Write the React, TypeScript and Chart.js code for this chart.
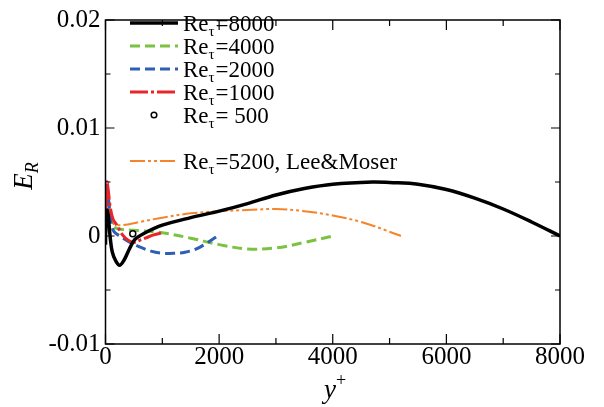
import React, { useEffect, useRef } from 'react';
import { Chart, registerables } from 'chart.js';
Chart.register(...registerables);

const SERIF = '"Liberation Serif", "Times New Roman", serif';

// Re_tau = 8000
const x8000 = [0, 5, 15, 30, 50, 80, 120, 180, 250, 330, 420, 520, 700, 1000, 1500, 2000, 2500, 3000, 3500, 4000, 4700, 5000, 5500, 6000, 6500, 7000, 7500, 8000];
const e8000 = [-0.0008, 0.001, 0.002, 0.0024, 0.0018, 0.0, -0.0015, -0.0023, -0.0027, -0.0022, -0.0012, -0.0003, 0.0003, 0.001, 0.0017, 0.0023, 0.003, 0.0038, 0.0044, 0.0048, 0.005, 0.00495, 0.0048, 0.0043, 0.0035, 0.0025, 0.0013, 0.0];
// Re_tau = 4000
const x4000 = [0, 10, 30, 60, 100, 150, 300, 600, 1000, 1500, 2000, 2500, 3000, 3500, 4000];
const e4000 = [0, 0.003, 0.0045, 0.003, 0.0012, 0.0008, 0.0006, 0.0005, 0.0003, -0.0002, -0.0008, -0.0012, -0.0011, -0.0006, 0];
// Re_tau = 2000
const x2000 = [0, 10, 30, 60, 100, 150, 250, 400, 600, 800, 1000, 1200, 1400, 1600, 1800, 2000];
const e2000 = [0, 0.003, 0.0045, 0.003, 0.0012, 0.0004, 0.0, -0.0005, -0.001, -0.0014, -0.0016, -0.0016, -0.0015, -0.0012, -0.0006, 0.0001];
// Re_tau = 1000
const x1000 = [0, 10, 25, 50, 80, 130, 200, 300, 400, 500, 600, 700, 850, 1000];
const e1000 = [0, 0.0035, 0.005, 0.0042, 0.0028, 0.0016, 0.001, 0.0001, -0.0004, -0.0006, -0.0004, -0.0002, 0.0001, 0.0003];
// Re_tau = 500 (markers)
const x500 = [480];
const e500 = [0.0002];
// Re_tau = 5200, Lee & Moser
const x5200 = [0, 10, 25, 50, 90, 150, 300, 600, 1000, 1500, 2000, 2500, 3000, 3500, 4000, 4500, 5000, 5200];
const e5200 = [0, 0.0035, 0.0042, 0.003, 0.0015, 0.0011, 0.001, 0.0013, 0.0017, 0.0021, 0.0023, 0.0024, 0.0025, 0.0023, 0.0019, 0.0013, 0.0004, 0];

const xTicks = [0, 1000, 2000, 3000, 4000, 5000, 6000, 7000, 8000];
const yTicks = [-0.01, -0.005, 0, 0.005, 0.01, 0.015, 0.02];

const BLACK = '#000000';
const GREEN = '#7cc242';
const BLUE = '#2f5fb5';
const RED = '#e8262a';
const ORANGE = '#f5842a';

const pts = (xs: number[], ys: number[]) => xs.map((x, i) => ({ x, y: ys[i] }));

type LegendItem = { color: string; dash: number[]; width: number; label: string; marker?: boolean };
const legendItems: LegendItem[] = [
  { color: BLACK, dash: [], width: 3.5, label: '=8000' },
  { color: GREEN, dash: [10, 5], width: 3, label: '=4000' },
  { color: BLUE, dash: [10, 5], width: 3, label: '=2000' },
  { color: RED, dash: [18, 3, 3, 3], width: 3, label: '=1000' },
  { color: BLACK, dash: [], width: 1.5, label: '= 500', marker: true },
  { color: ORANGE, dash: [15, 3, 3, 3, 3, 3], width: 2, label: '=5200, Lee&Moser' },
];
const legendRows = [23, 46, 69, 92, 115, 161];

const framePlugin = {
  id: 'frameTicksLegend',
  afterDraw(chart: any) {
    const { ctx, chartArea } = chart;
    const xs = chart.scales.x;
    const ys = chart.scales.y;
    const { left, right, top, bottom } = chartArea;
    ctx.save();
    ctx.strokeStyle = '#000';
    ctx.lineWidth = 1.5;
    ctx.setLineDash([]);
    ctx.strokeRect(left, top, right - left, bottom - top);
    ctx.lineWidth = 1.2;
    xTicks.forEach((v) => {
      const px = xs.getPixelForValue(v);
      const len = v % 2000 === 0 ? 10 : 6;
      ctx.beginPath();
      ctx.moveTo(px, bottom);
      ctx.lineTo(px, bottom - len);
      ctx.moveTo(px, top);
      ctx.lineTo(px, top + len);
      ctx.stroke();
    });
    yTicks.forEach((v) => {
      const py = ys.getPixelForValue(v);
      const major = Math.abs(Math.round(v * 100) - v * 100) < 1e-6;
      const len = major ? 9 : 5;
      ctx.beginPath();
      ctx.moveTo(left, py);
      ctx.lineTo(left + len, py);
      ctx.moveTo(right, py);
      ctx.lineTo(right - len, py);
      ctx.stroke();
    });

    // legend
    const lx0 = 130, lx1 = 178, tx = 183;
    legendItems.forEach((it, i) => {
      const y = legendRows[i];
      if (it.marker) {
        ctx.setLineDash([]);
        ctx.lineWidth = 1.5;
        ctx.strokeStyle = '#000';
        ctx.fillStyle = '#fff';
        ctx.beginPath();
        ctx.arc((lx0 + lx1) / 2, y, 2.8, 0, Math.PI * 2);
        ctx.fill();
        ctx.stroke();
      } else {
        ctx.setLineDash(it.dash);
        ctx.lineWidth = it.width;
        ctx.strokeStyle = it.color;
        ctx.beginPath();
        ctx.moveTo(lx0, y);
        ctx.lineTo(lx1, y);
        ctx.stroke();
      }
      ctx.setLineDash([]);
      ctx.fillStyle = '#000';
      ctx.textAlign = 'left';
      ctx.textBaseline = 'alphabetic';
      ctx.font = `23px ${SERIF}`;
      const base = y + 8;
      ctx.fillText('Re', tx, base);
      let cx = tx + ctx.measureText('Re').width;
      ctx.font = `15px ${SERIF}`;
      ctx.fillText('τ', cx, base + 5);
      cx += ctx.measureText('τ').width + 1;
      ctx.font = `23px ${SERIF}`;
      ctx.fillText(it.label, cx, base);
    });

    // y axis title E_R
    ctx.save();
    ctx.translate(32, 176);
    ctx.rotate(-Math.PI / 2);
    ctx.font = `italic 27px ${SERIF}`;
    const wE = ctx.measureText('E').width;
    ctx.font = `italic 18px ${SERIF}`;
    const wR = ctx.measureText('R').width;
    const start = -(wE + wR) / 2;
    ctx.font = `italic 27px ${SERIF}`;
    ctx.fillText('E', start, 0);
    ctx.font = `italic 18px ${SERIF}`;
    ctx.fillText('R', start + wE, 6);
    ctx.restore();

    // x axis title y+
    ctx.font = `italic 27px ${SERIF}`;
    const wy = ctx.measureText('y').width;
    ctx.fillText('y', 330 - wy / 2, 398);
    ctx.font = `18px ${SERIF}`;
    ctx.fillText('+', 330 + wy / 2 + 0, 386);
    ctx.restore();
  },
};

export default function App() {
  const ref = useRef<HTMLCanvasElement>(null);
  useEffect(() => {
    const line = (data: any, color: string, width: number, dash: number[]) => ({
      data,
      showLine: true,
      borderColor: color,
      backgroundColor: color,
      borderWidth: width,
      borderDash: dash,
      pointRadius: 0,
      fill: false,
      tension: 0.35,
    });
    const chart = new Chart(ref.current!, {
      type: 'scatter',
      data: {
        datasets: [
          line(pts(x8000, e8000), BLACK, 3.5, []),
          {
            data: pts(x500, e500),
            showLine: false,
            pointRadius: 3,
            pointBorderWidth: 1.5,
            pointBorderColor: '#000',
            pointBackgroundColor: '#fff',
          } as any,
          line(pts(x1000, e1000), RED, 3, [18, 3, 3, 3]),
          line(pts(x2000, e2000), BLUE, 3, [10, 5]),
          line(pts(x4000, e4000), GREEN, 3, [10, 5]),
          line(pts(x5200, e5200), ORANGE, 2, [15, 3, 3, 3, 3, 3]),
        ],
      },
      options: {
        animation: false,
        responsive: true,
        maintainAspectRatio: false,
        layout: { padding: { top: 19, right: 44, left: 0, bottom: 0 } },
        plugins: { legend: { display: false }, tooltip: { enabled: false } },
        scales: {
          x: {
            type: 'linear',
            min: 0,
            max: 8000,
            grid: { display: false, drawTicks: false },
            border: { display: false },
            ticks: {
              stepSize: 1000,
              autoSkip: false,
              maxRotation: 0,
              padding: -2,
              color: '#000',
              font: { family: SERIF, size: 25 },
              callback: (v: any) => (Number(v) % 2000 === 0 ? String(v) : ''),
            },
            afterFit: (s: any) => { s.height = 63; },
          },
          y: {
            type: 'linear',
            min: -0.01,
            max: 0.02,
            grid: { display: false, drawTicks: false },
            border: { display: false },
            ticks: {
              stepSize: 0.005,
              autoSkip: false,
              padding: 5,
              color: '#000',
              font: { family: SERIF, size: 25 },
              callback: (v: any) => {
                const n = Math.round(Number(v) * 1000) / 1000;
                if (Math.abs(n * 100 - Math.round(n * 100)) < 1e-6) return n === 0 ? '0' : String(n);
                return '';
              },
            },
            afterFit: (s: any) => { s.width = 105.5; },
          },
        },
      },
      plugins: [framePlugin],
    });
    return () => chart.destroy();
  }, []);
  return (
    <div style={{ position: 'fixed', left: 0, top: 0, width: 604, height: 407, background: '#fff' }}>
      <canvas ref={ref} />
    </div>
  );
}
